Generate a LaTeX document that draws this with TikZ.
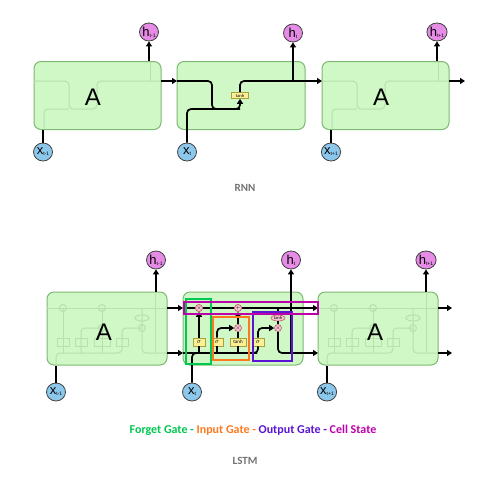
\documentclass[tikz,border=0pt]{standalone}
\usepackage{fontspec}
\setmainfont{Carlito}
\newfontfamily\arialf{Liberation Sans}
\usetikzlibrary{arrows.meta,shapes.geometric}
\definecolor{cellfill}{RGB}{208,247,198}
\definecolor{celldraw}{RGB}{125,185,115}
\definecolor{hfill}{RGB}{230,140,230}
\definecolor{xfill}{RGB}{140,200,235}
\definecolor{opfill}{RGB}{248,200,210}
\definecolor{opdraw}{RGB}{190,90,110}
\definecolor{gatefill}{RGB}{250,240,150}
\definecolor{gatedraw}{RGB}{170,160,60}
\definecolor{fgc}{RGB}{0,200,80}
\definecolor{igc}{RGB}{255,120,30}
\definecolor{ogc}{RGB}{90,20,210}
\definecolor{csc}{RGB}{190,0,170}
\definecolor{labgray}{RGB}{115,115,115}
\definecolor{fadec}{RGB}{182,224,172}
\tikzset{
  cellbox/.style={draw=celldraw, fill=cellfill, rounded corners=7pt, line width=1pt, minimum width=#1, minimum height=68pt, inner sep=0pt},
  hnode/.style={ellipse, draw=black!75, fill=hfill, minimum width=19pt, minimum height=18pt, inner sep=0pt, line width=0.8pt, font=\arialf\fontsize{13}{13}\selectfont},
  xnode/.style={hnode, fill=xfill},
  wire/.style={line width=1.7pt, rounded corners=4pt},
  arr/.style={wire, -{Triangle[length=5pt,width=6pt]}},
  ghost/.style={draw=fadec, line width=1pt, rounded corners=4pt},
  opnode/.style={circle, draw=opdraw, fill=opfill, minimum size=7pt, inner sep=0pt, line width=0.6pt, font=\fontsize{5}{5}\selectfont},
  gatebox/.style={draw=gatedraw, fill=gatefill, minimum width=12pt, minimum height=8pt, inner sep=0pt, line width=0.6pt, font=\fontsize{6}{6}\selectfont},
  bigA/.style={font=\arialf\fontsize{24}{24}\selectfont},
  hl/.style={line width=1.4pt},
  caplabel/.style={font=\bfseries\fontsize{11}{11}\selectfont, text=labgray}
}
\newcommand{\sbs}[1]{\raisebox{-1pt}{\fontsize{5}{5}\selectfont #1}}
\newcommand{\rnnghost}{%
  \draw[ghost] (177,81) -- (212,81) -- (212,109) -- (240,109) -- (240,81) -- (305,81);
  \draw[ghost] (187,129) -- (187,109) -- (212,109);
  \draw[ghost] (293,81) -- (293,62);
}
\newcommand{\lstmghost}{%
  \draw[ghost] (183,308) -- (303,308);
  \draw[ghost] (192,365) -- (192,353) -- (258,353) -- (258,342);
  \draw[ghost] (199,353) -- (199,308);
  \draw[ghost] (217,353) -- (217,328) -- (238,328);
  \draw[ghost] (238,353) -- (238,308);
  \draw[ghost] (258,342) -- (258,328) -- (278,328);
  \draw[ghost] (278,308) -- (278,353) -- (303,353);
  \draw[ghost] (291,353) -- (291,292);
  \foreach \gx/\gw in {199/12,217/12,238/16,258/12}{\draw[ghost, rounded corners=0pt] (\gx-\gw/2,338) rectangle (\gx+\gw/2,346);}
  \foreach \cx/\cy in {199/308,238/308,238/328,278/328}{\draw[ghost] (\cx,\cy) circle (3.5);}
  \draw[ghost] (278,318) ellipse (7 and 3);
}
\begin{document}
\begin{tikzpicture}[x=1pt,y=-1pt]
\useasboundingbox[fill=white] (0,0) rectangle (503,477);

% ================= RNN =================
\node[cellbox=127pt] (rA1) at (97.5,95.5) {};
\node[cellbox=128pt] (rA2) at (241,95.5) {};
\node[cellbox=127pt] (rA3) at (385.5,95.5) {};
\begin{scope}[xshift=-143pt]\rnnghost\end{scope}
\begin{scope}[xshift=145pt]\rnnghost\end{scope}
\node[bigA] (rlA1) at (93,97) {A};
\node[bigA] (rlA3) at (381,97) {A};

\node[hnode] (rh1) at (149,32) {h\sbs{t-1}};
\node[hnode] (rh2) at (293,33) {h\sbs{t}};
\node[hnode] (rh3) at (437,32) {h\sbs{t+1}};
\node[xnode] (rx1) at (43,152) {x\sbs{t-1}};
\node[xnode] (rx2) at (187,152) {x\sbs{t}};
\node[xnode] (rx3) at (331,152) {x\sbs{t+1}};

\node[gatebox, minimum width=17pt, minimum height=6pt, font=\fontsize{4.5}{4.5}\selectfont] (rtanh) at (240,95.5) {tanh};

\coordinate (r1o) at (161,81);
\coordinate (r2i) at (177,81);
\coordinate (r2o) at (305,81);
\coordinate (r3i) at (322,81);
\coordinate (r3o) at (449,81);
\coordinate (r4) at (465,81);

\draw[arr] (r1o) -- (r2i);
\draw[wire] (r2i) -- (212,81) -- (212,109) -- (240,109);
\draw[arr] (rx2.north) -- (187,109) -- (240,109) -- (rtanh.south);
\draw[wire] (rtanh.north) -- (240,81) -- (r2o);
\draw[arr] (r2o) -- (r3i);
\draw[arr] (293,81) -- (rh2.south);
\draw[arr] (rA1.north -| rh1) -- (rh1.south);
\draw[arr] (rA3.north -| rh3) -- (rh3.south);
\draw[line width=1.7pt] (rx1.north) -- (rA1.south -| rx1);
\draw[line width=1.7pt] (rx3.north) -- (rA3.south -| rx3);
\draw[arr] (r3o) -- (r4);

\node[caplabel] (rnnlab) at (245,188) {RNN};

% ================= LSTM =================
\node[cellbox=120pt, minimum height=73pt] (lA1) at (107,328.5) {};
\node[cellbox=120pt, minimum height=73pt] (lA2) at (243,328.5) {};
\node[cellbox=120pt, minimum height=73pt] (lA3) at (378,328.5) {};
\begin{scope}[xshift=-136pt]\lstmghost\end{scope}
\begin{scope}[xshift=135pt]\lstmghost\end{scope}
\node[bigA] (llA1) at (104,332) {A};
\node[bigA] (llA3) at (375,332) {A};

\node[hnode] (lh1) at (156,260) {h\sbs{t-1}};
\node[hnode] (lh2) at (291,260) {h\sbs{t}};
\node[hnode] (lh3) at (426,260) {h\sbs{t+1}};
\node[xnode] (lx1) at (56,392) {x\sbs{t-1}};
\node[xnode] (lx2) at (192,392) {x\sbs{t}};
\node[xnode] (lx3) at (327,392) {x\sbs{t+1}};

% gates and operations
\node[gatebox] (sf) at (199,342) {$\sigma$};
\node[gatebox] (si) at (217,342) {$\sigma$};
\node[gatebox, minimum width=16pt, font=\fontsize{5}{5}\selectfont] (tg) at (238,342) {tanh};
\node[gatebox] (so) at (258,342) {$\sigma$};
\node[opnode] (mf) at (199,308) {$\times$};
\node[opnode] (pl) at (238,308) {$+$};
\node[opnode] (mi) at (238,328) {$\times$};
\node[opnode] (mo) at (278,328) {$\times$};
\node[ellipse, draw=opdraw, fill=opfill, minimum width=14pt, minimum height=6pt, inner sep=0pt, line width=0.6pt, font=\fontsize{4.5}{4.5}\selectfont] (tc) at (278,318) {tanh};

\coordinate (c1o) at (167,308);
\coordinate (c2i) at (183,308);
\coordinate (c2o) at (303,308);
\coordinate (c3i) at (318,308);
\coordinate (c3o) at (438,308);
\coordinate (c4) at (452,308);
\coordinate (h1o) at (167,353);
\coordinate (h2i) at (183,353);
\coordinate (h2o) at (303,353);
\coordinate (h3i) at (318,353);
\coordinate (h3o) at (438,353);
\coordinate (h4) at (452,353);

\draw[wire] (c2i) -- (mf) -- (pl) -- (c2o);
\draw[arr] (c1o) -- (c2i);
\draw[arr] (c2o) -- (c3i);
\draw[arr] (c3o) -- (c4);
\draw[arr] (h1o) -- (h2i);
\draw[arr] (h2o) -- (h3i);
\draw[arr] (h3o) -- (h4);

\draw[wire] (h2i) -- (253,353) -- (258,353) -- (so.south);
\draw[wire] (lx2.north) -- (192,353) -- (199,353);
\draw[wire] (199,353) -- (sf.south);
\draw[wire] (217,353) -- (si.south);
\draw[wire] (238,353) -- (tg.south);
\draw[arr] (sf.north) -- (mf.south);
\draw[arr] (si.north) -- (217,328) -- (mi.west);
\draw[wire] (tg.north) -- (mi.south);
\draw[arr] (mi.north) -- (pl.south);
\draw[arr] (so.north) -- (258,328) -- (mo.west);
\draw[wire] (278,308) -- (tc.north);
\draw[wire] (tc.south) -- (mo.north);
\draw[wire] (mo.south) -- (278,353) -- (h2o);
\draw[arr] (291,353) -- (lh2.south);
\node[opnode] at (mf) {$\times$};
\node[opnode] at (pl) {$+$};

\draw[arr] (lA1.north -| lh1) -- (lh1.south);
\draw[arr] (lA3.north -| lh3) -- (lh3.south);
\draw[line width=1.7pt] (lx1.north) -- (lA1.south -| lx1);
\draw[line width=1.7pt] (lx3.north) -- (lA3.south -| lx3);

% highlight boxes
\draw[hl, draw=fgc] (186,299) rectangle (211,364);
\draw[hl, draw=igc] (213,317) rectangle (249,360);
\draw[hl, draw=ogc] (253,312) rectangle (292,361);
\draw[hl, draw=csc] (184,302) rectangle (318,314);

\node[font=\bfseries\fontsize{12}{12}\selectfont] (legend) at (253,430) {\textcolor{fgc}{Forget Gate -} \textcolor{igc}{Input Gate -} \textcolor{ogc}{Output Gate -} \textcolor{csc}{Cell State}};
\node[caplabel] (lstmlab) at (245,461) {LSTM};
\end{tikzpicture}
\end{document}
